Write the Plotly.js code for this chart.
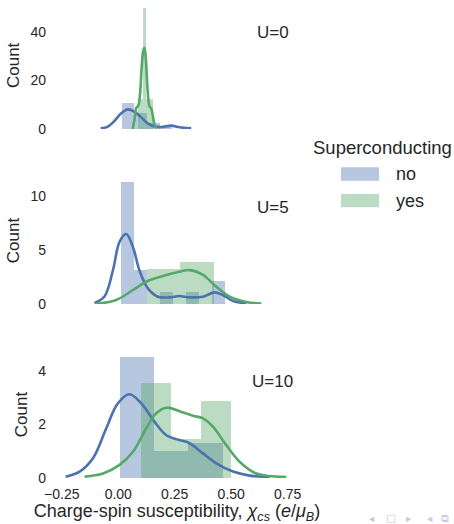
<!DOCTYPE html>
<html>
<head>
<meta charset="utf-8">
<script src="https://cdn.plot.ly/plotly-3.0.1.min.js"></script>
<style>html,body{margin:0;padding:0;background:#fff;}#chart{width:454px;height:524px;}</style>
</head>
<body>
<div id="chart"></div>
<script>
// ---------- data ----------
const panels = ["U=0", "U=5", "U=10"];
const hues = ["no", "yes"];
const legendTitle = "Superconducting";
const xTickVals = [-0.25, 0, 0.25, 0.5, 0.75];
const xTickText = ["\u22120.25", "0.00", "0.25", "0.50", "0.75"];
const yTicksU0 = [0, 20, 40];
const yTicksU5 = [0, 5, 10];
const yTicksU10 = [0, 2, 4];

// U=0 histograms (bin edges, heights)
const u0NoEdges = [0.015, 0.071, 0.127, 0.183, 0.239];
const u0NoCounts = [10.6, 6.5, 2.6, 1.0];
const u0YesEdges = [0.088, 0.109, 0.124, 0.152];
const u0YesCounts = [12.4, 50, 12.4];
// U=0 KDE curves
const u0NoKdeX = [-0.078, -0.046, -0.016, 0.013, 0.043, 0.072, 0.102, 0.131, 0.161, 0.19, 0.235, 0.271, 0.323];
const u0NoKdeY = [0.3, 1.0, 3.4, 6.5, 8.1, 7.1, 4.8, 2.3, 1.0, 0.8, 1.4, 0.7, 0.3];
const u0YesKdeX = [0.064, 0.072, 0.080, 0.088, 0.096, 0.104, 0.110, 0.116, 0.122, 0.130, 0.138, 0.146, 0.152, 0.160, 0.168];
const u0YesKdeY = [0.0, 4.0, 8.8, 9.5, 14, 26, 32, 33.5, 29, 16, 9.5, 8.5, 6.0, 2.0, 0.2];

// U=5 histograms
const u5NoEdges = [0.010, 0.068, 0.126, 0.184, 0.242, 0.300, 0.358, 0.416, 0.474];
const u5NoCounts = [11.3, 3.15, 0, 1.1, 0, 1.1, 0, 2.16];
const u5YesEdges = [0.127, 0.275, 0.422];
const u5YesCounts = [3.24, 3.92];
// U=5 KDE curves
const u5NoKdeX = [-0.105, -0.061, -0.024, 0.006, 0.035, 0.065, 0.094, 0.131, 0.175, 0.227, 0.271, 0.316, 0.375, 0.426, 0.463, 0.508, 0.567];
const u5NoKdeY = [0.1, 0.7, 3.1, 5.8, 6.5, 5.3, 3.1, 1.45, 0.68, 0.62, 0.74, 0.62, 0.68, 1.08, 0.83, 0.28, 0.06];
const u5YesKdeX = [-0.105, -0.009, 0.065, 0.124, 0.198, 0.271, 0.316, 0.375, 0.434, 0.493, 0.567, 0.633];
const u5YesKdeY = [0.0, 0.37, 1.3, 2.07, 2.6, 3.0, 3.15, 2.7, 1.6, 0.68, 0.19, 0.05];

// U=10 histograms
const u10NoEdges = [0.006, 0.158, 0.310, 0.462];
const u10NoCounts = [4.53, 1.0, 1.32];
const u10YesEdges = [0.099, 0.234, 0.367, 0.500];
const u10YesCounts = [3.56, 1.45, 2.88];
// U=10 KDE curves
const u10NoKdeX = [-0.233, -0.171, -0.112, -0.053, -0.002, 0.050, 0.102, 0.161, 0.213, 0.271, 0.316, 0.375, 0.434, 0.508, 0.581, 0.670];
const u10NoKdeY = [0.05, 0.24, 0.74, 1.86, 2.79, 3.13, 2.79, 2.1, 1.6, 1.42, 1.3, 0.92, 0.55, 0.24, 0.09, 0.04];
const u10YesKdeX = [-0.149, -0.068, 0.006, 0.065, 0.124, 0.168, 0.213, 0.271, 0.330, 0.375, 0.419, 0.478, 0.537, 0.611, 0.744];
const u10YesKdeY = [0.05, 0.17, 0.49, 0.98, 1.86, 2.42, 2.63, 2.5, 2.33, 2.23, 1.92, 1.23, 0.61, 0.17, 0.04];

// ---------- styling ----------
const W = 454, H = 524;
const ML = 55, MR = 155;
const PW = W - ML - MR;
const FONT = "Liberation Sans, Arial, sans-serif";
const TXT = "#262626";
const BLUE = "#4C72B0", GREEN = "#55A868";
const BLUE_A = "rgba(76,114,176,0.4)", GREEN_A = "rgba(85,168,104,0.4)";
const py = p => 1 - p / H;          // pixel row -> paper y (no top/bottom margins)
const px = p => (p - ML) / PW;      // pixel col -> paper x

function barTrace(edges, counts, color, xa, ya, name) {
  const x = [], w = [];
  for (let i = 0; i < counts.length; i++) {
    x.push((edges[i] + edges[i + 1]) / 2);
    w.push(edges[i + 1] - edges[i]);
  }
  return {type: "bar", x: x, y: counts, width: w, xaxis: xa, yaxis: ya, name: name,
    marker: {color: color, line: {width: 0}}, showlegend: false, hoverinfo: "skip"};
}
function kdeTrace(xs, ys, color, xa, ya, name) {
  return {type: "scatter", mode: "lines", x: xs, y: ys, xaxis: xa, yaxis: ya, name: name,
    line: {color: color, width: 2.6, shape: "spline", smoothing: 1}, showlegend: false, hoverinfo: "skip"};
}

const traces = [
  barTrace(u0NoEdges, u0NoCounts, BLUE_A, "x", "y", hues[0]),
  barTrace(u0YesEdges, u0YesCounts, GREEN_A, "x", "y", hues[1]),
  kdeTrace(u0NoKdeX, u0NoKdeY, BLUE, "x", "y", hues[0]),
  kdeTrace(u0YesKdeX, u0YesKdeY, GREEN, "x", "y", hues[1]),
  barTrace(u5NoEdges, u5NoCounts, BLUE_A, "x2", "y2", hues[0]),
  barTrace(u5YesEdges, u5YesCounts, GREEN_A, "x2", "y2", hues[1]),
  kdeTrace(u5NoKdeX, u5NoKdeY, BLUE, "x2", "y2", hues[0]),
  kdeTrace(u5YesKdeX, u5YesKdeY, GREEN, "x2", "y2", hues[1]),
  barTrace(u10NoEdges, u10NoCounts, BLUE_A, "x3", "y3", hues[0]),
  barTrace(u10YesEdges, u10YesCounts, GREEN_A, "x3", "y3", hues[1]),
  kdeTrace(u10NoKdeX, u10NoKdeY, BLUE, "x3", "y3", hues[0]),
  kdeTrace(u10YesKdeX, u10YesKdeY, GREEN, "x3", "y3", hues[1])
];

const xRange = [-0.28, 0.80];
function xAxis(anchor, showLabels) {
  return {anchor: anchor, domain: [0, 1], range: xRange, showgrid: false, zeroline: false,
    showline: false, ticks: "", tickvals: xTickVals, ticktext: xTickText,
    showticklabels: showLabels, ticklabelstandoff: 6,
    tickfont: {family: FONT, size: 14, color: TXT}};
}
function yAxis(anchor, dom, range, tv) {
  return {anchor: anchor, domain: dom, range: range, showgrid: false, zeroline: false,
    showline: false, ticks: "", tickvals: tv, ticklabelstandoff: 8,
    tickfont: {family: FONT, size: 14, color: TXT},
    title: {text: "Count", font: {family: FONT, size: 17, color: TXT}, standoff: 6}};
}

const xaxis3 = xAxis("y3", true);
xaxis3.title = {text: "Charge-spin susceptibility, <i>\u03c7<sub>cs</sub></i> (<i>e</i>/<i>\u03bc<sub>B</sub></i>)",
  font: {family: FONT, size: 18, color: TXT}, standoff: 9};

const annotations = [];
[["x", "y"], ["x2", "y2"], ["x3", "y3"]].forEach((ax, i) => {
  annotations.push({xref: ax[0] + " domain", yref: ax[1] + " domain", x: 0.893, y: 0.76,
    xanchor: "center", yanchor: "middle", showarrow: false, text: panels[i],
    font: {family: FONT, size: 17, color: TXT}});
});
// legend (drawn manually to match the wide seaborn patches)
annotations.push({xref: "paper", yref: "paper", x: px(382), y: py(147), xanchor: "center", yanchor: "middle",
  showarrow: false, text: legendTitle, font: {family: FONT, size: 18.5, color: TXT}});
annotations.push({xref: "paper", yref: "paper", x: px(393.5), y: py(174), xanchor: "left", yanchor: "middle",
  showarrow: false, text: hues[0], font: {family: FONT, size: 18, color: TXT}});
annotations.push({xref: "paper", yref: "paper", x: px(393.5), y: py(201), xanchor: "left", yanchor: "middle",
  showarrow: false, text: hues[1], font: {family: FONT, size: 18, color: TXT}});
// beamer navigation symbols
const navGlyphs = [["\u25C2", 372], ["\u25A1", 391], ["\u25B8", 408.5], ["\u25C2", 430], ["\u29C9", 445]];
navGlyphs.forEach(g => annotations.push({xref: "paper", yref: "paper", x: px(g[1]), y: py(517.5),
  xanchor: "center", yanchor: "middle", showarrow: false, text: g[0], borderpad: 0,
  font: {family: "DejaVu Sans, sans-serif", size: 10.5, color: "#c6c9e2"}}));

const shapes = [
  {type: "rect", xref: "paper", yref: "paper", x0: px(341), x1: px(379), y0: py(180.7), y1: py(167.3),
    fillcolor: BLUE_A, line: {width: 0}},
  {type: "rect", xref: "paper", yref: "paper", x0: px(341), x1: px(379), y0: py(207.3), y1: py(194),
    fillcolor: GREEN_A, line: {width: 0}}
];

const layout = {
  width: W, height: H,
  margin: {l: ML, r: MR, t: 0, b: 0},
  paper_bgcolor: "#ffffff", plot_bgcolor: "#ffffff",
  barmode: "overlay", bargap: 0,
  showlegend: false,
  font: {family: FONT, color: TXT},
  xaxis: xAxis("y", false),
  xaxis2: xAxis("y2", false),
  xaxis3: xaxis3,
  yaxis: yAxis("x", [py(129), py(1.7)], [0, 52.5], yTicksU0),
  yaxis2: yAxis("x2", [py(304), py(177)], [0, 11.8], yTicksU5),
  yaxis3: yAxis("x3", [py(478), py(351)], [0, 4.75], yTicksU10),
  annotations: annotations,
  shapes: shapes
};

Plotly.newPlot("chart", traces, layout, {displayModeBar: false, staticPlot: true});
</script>
</body>
</html>
